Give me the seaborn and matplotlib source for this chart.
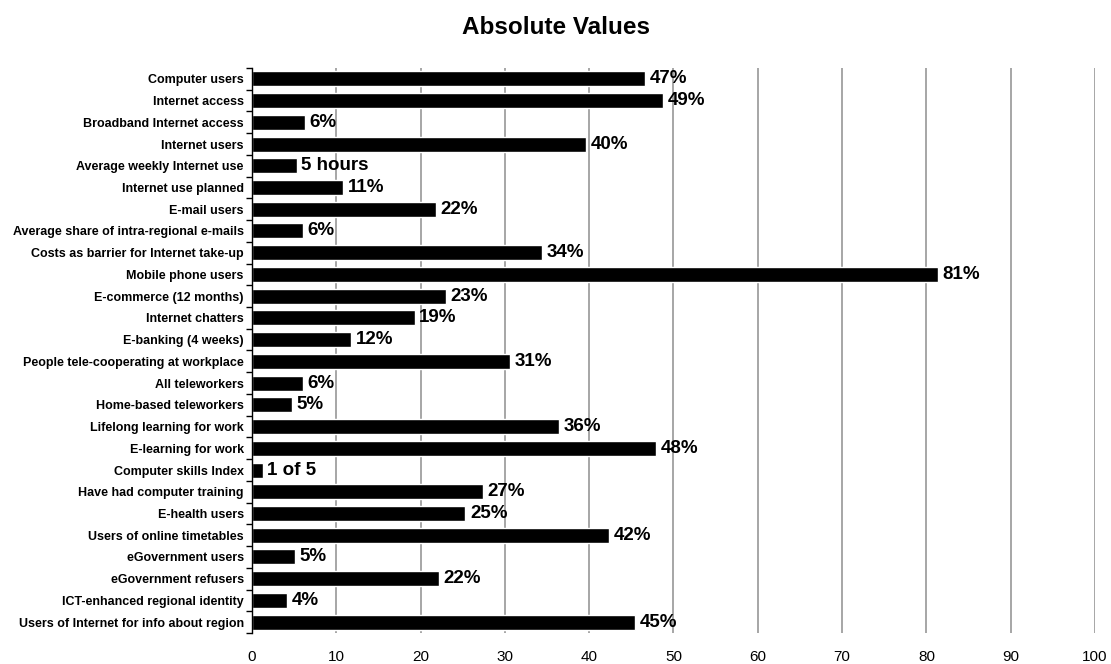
import numpy as np
import pandas as pd
import matplotlib
matplotlib.use("Agg")
import matplotlib.pyplot as plt
import seaborn as sns

categories = [
    "Computer users",
    "Internet access",
    "Broadband Internet access",
    "Internet users",
    "Average weekly Internet use",
    "Internet use planned",
    "E-mail users",
    "Average share of intra-regional e-mails",
    "Costs as barrier for Internet take-up",
    "Mobile phone users",
    "E-commerce (12 months)",
    "Internet chatters",
    "E-banking (4 weeks)",
    "People tele-cooperating at workplace",
    "All teleworkers",
    "Home-based teleworkers",
    "Lifelong learning for work",
    "E-learning for work",
    "Computer skills Index",
    "Have had computer training",
    "E-health users",
    "Users of online timetables",
    "eGovernment users",
    "eGovernment refusers",
    "ICT-enhanced regional identity",
    "Users of Internet for info about region",
]

values = [
    46.6, 48.8, 6.3, 39.6, 5.3, 10.8, 21.8, 6.0, 34.4, 81.4,
    23.0, 19.3, 11.8, 30.6, 6.0, 4.75, 36.4, 47.9, 1.27, 27.4,
    25.3, 42.4, 5.1, 22.2, 4.2, 45.4,
]

units = [
    "%", "%", "%", "%", " hours", "%", "%", "%", "%", "%",
    "%", "%", "%", "%", "%", "%", "%", "%", " of 5", "%",
    "%", "%", "%", "%", "%", "%",
]

x_ticks = list(range(0, 101, 10))

df = pd.DataFrame({"category": categories, "value": values})

sns.set_theme(style="white")
plt.rcParams["font.family"] = ["Liberation Sans", "DejaVu Sans"]
plt.rcParams["text.color"] = "black"
plt.rcParams["xtick.color"] = "black"
plt.rcParams["ytick.color"] = "black"

fig = plt.figure(figsize=(11.11, 6.64), dpi=100)
ax = fig.add_axes([0.2268, 0.0467, 0.7588, 0.8509])

sns.barplot(data=df, x="value", y="category", orient="h", color="black",
            saturation=1, width=0.69, ax=ax, zorder=3)

ax.set_xlim(0, 100)
ax.set_ylim(len(categories) - 0.5, -0.5)
ax.set_xticks(x_ticks)
ax.set_xticklabels([str(t) for t in x_ticks], fontsize=11, color="black")
ax.tick_params(axis="x", length=0, pad=12)

ax.grid(axis="x", color="#a6a6a6", linewidth=1.4, zorder=0)
ax.grid(axis="y", visible=False)

for side in ["top", "right", "bottom"]:
    ax.spines[side].set_visible(False)
ax.spines["left"].set_color("black")
ax.spines["left"].set_linewidth(1.0)
ax.spines["left"].set_zorder(4)

ax.set_yticks(range(len(categories)))
ax.set_yticklabels(categories, fontsize=9, fontweight="bold", color="black")
ax.tick_params(axis="y", which="major", length=0, pad=6)
ax.set_yticks(np.arange(-0.5, len(categories)), minor=True)
ax.tick_params(axis="y", which="minor", length=4, width=1, color="black",
               direction="out", left=True)

ax.set_xlabel("")
ax.set_ylabel("")

for i, (v, u) in enumerate(zip(values, units)):
    ax.text(v + 0.55, i, f"{round(v)}{u}", va="center", ha="left",
            fontsize=13.5, fontweight="bold", color="black", zorder=5)

fig.text(0.5, 1 - 28 / 664, "Absolute Values", ha="center", va="center",
         fontsize=17.5, fontweight="bold", color="black")

fig.savefig("out.png", dpi=100, facecolor="white")
